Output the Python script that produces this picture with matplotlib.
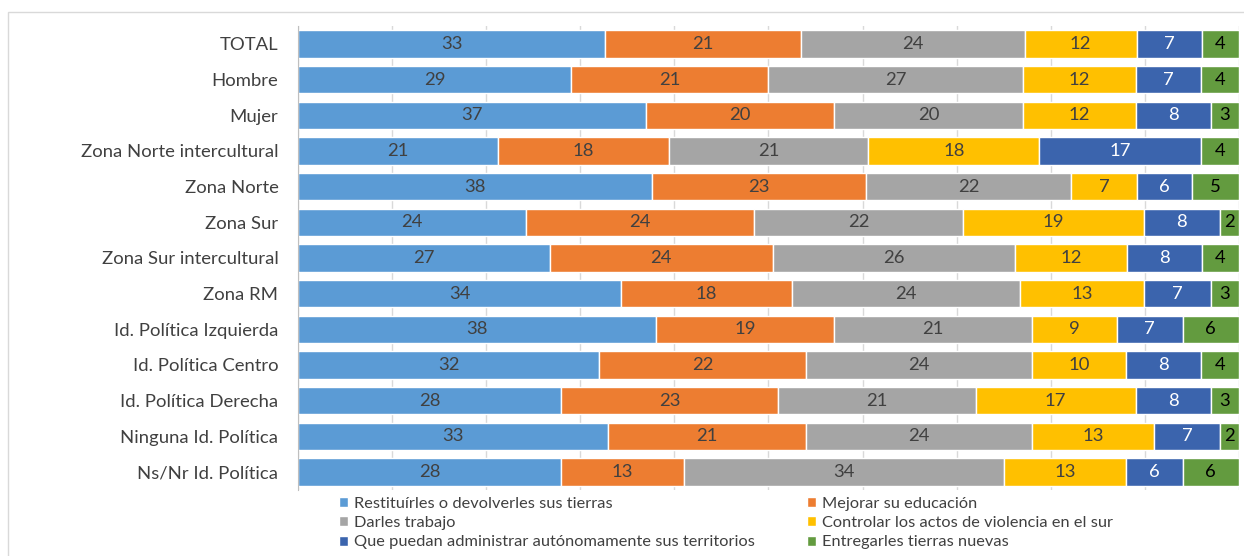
import numpy as np
import matplotlib.pyplot as plt
from matplotlib.patches import Rectangle

plt.rcParams['font.family'] = ['Lato', 'DejaVu Sans']

categories = ['TOTAL', 'Hombre', 'Mujer', 'Zona Norte intercultural', 'Zona Norte',
              'Zona Sur', 'Zona Sur intercultural', 'Zona RM', 'Id. Política Izquierda',
              'Id. Política Centro', 'Id. Política Derecha', 'Ninguna Id. Política',
              'Ns/Nr Id. Política']

series_names = ['Restituírles o devolverles sus tierras',
                'Mejorar su educación',
                'Darles trabajo',
                'Controlar los actos de violencia en el sur',
                'Que puedan administrar autónomamente sus territorios',
                'Entregarles tierras nuevas']

restituir = [33, 29, 37, 21, 38, 24, 27, 34, 38, 32, 28, 33, 28]
educacion = [21, 21, 20, 18, 23, 24, 24, 18, 19, 22, 23, 21, 13]
trabajo = [24, 27, 20, 21, 22, 22, 26, 24, 21, 24, 21, 24, 34]
violencia = [12, 12, 12, 18, 7, 19, 12, 13, 9, 10, 17, 13, 13]
autonomia = [7, 7, 8, 17, 6, 8, 8, 7, 7, 8, 8, 7, 6]
tierras_nuevas = [4, 4, 3, 4, 5, 2, 4, 3, 6, 4, 3, 2, 6]

colors = ['#5B9BD5', '#ED7D31', '#A5A5A5', '#FFC000', '#3B64AD', '#639B3F']
text_colors = ['#404040', '#404040', '#404040', '#404040', 'white', 'black']

data = np.array([restituir, educacion, trabajo, violencia, autonomia, tierras_nuevas], dtype=float)
shares = data / data.sum(axis=0) * 100

fig = plt.figure(figsize=(12.44, 5.56), dpi=100)
ax = fig.add_axes([0.2395, 0.119, 0.7565, 0.834])

# light chart border
fig.patches.append(Rectangle((8 / 1244, -0.05), 1.1, 1 - 12 / 556 + 0.05,
                             transform=fig.transFigure, fill=False,
                             edgecolor='#D9D9D9', linewidth=1))

y = np.arange(len(categories))
left = np.zeros(len(categories))
for i, name in enumerate(series_names):
    bars = ax.barh(y, shares[i], left=left, height=0.77, color=colors[i],
                   edgecolor='white', linewidth=1, label=name, zorder=2)
    for j, b in enumerate(bars):
        ax.text(b.get_x() + b.get_width() / 2, b.get_y() + b.get_height() / 2,
                f'{int(data[i, j])}', ha='center', va='center',
                fontsize=13.3, color=text_colors[i], zorder=3)
    left += shares[i]

ax.set_xlim(0, 100)
ax.set_ylim(len(categories) - 0.5, -0.5)
ax.set_yticks(y)
ax.set_yticklabels(categories, fontsize=13.3, color='#404040')
ax.tick_params(axis='y', length=0, pad=14)
ax.tick_params(axis='x', length=0, labelbottom=False)
ax.set_xticks(np.arange(0, 101, 10))
ax.grid(axis='x', color='#D9D9D9', linewidth=1, zorder=0)
for s in ['top', 'right', 'bottom']:
    ax.spines[s].set_visible(False)
ax.spines['left'].set_color('#BFBFBF')

handles, labels = ax.get_legend_handles_labels()
order = [0, 2, 4, 1, 3, 5]
fig.legend([handles[k] for k in order], [labels[k] for k in order],
           loc='upper left', bbox_to_anchor=(332 / 1244, 1 - 490 / 556),
           ncol=2, frameon=False, fontsize=11.8, handlelength=0.55,
           handleheight=0.55, handletextpad=0.4, columnspacing=3.15,
           labelspacing=0.33, labelcolor='#404040', borderaxespad=0)

fig.savefig('out.png', dpi=100)
